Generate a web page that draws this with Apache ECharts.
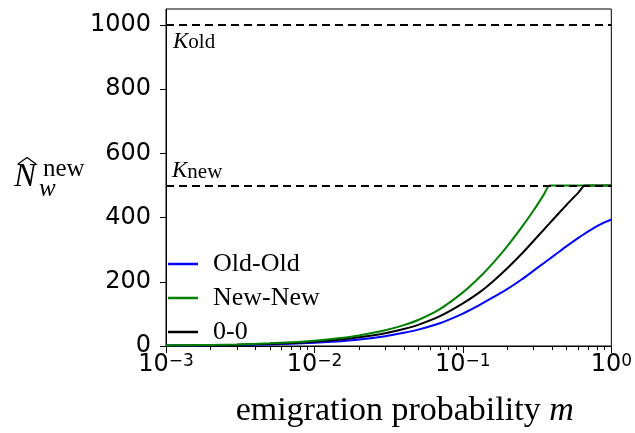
<!DOCTYPE html>
<html>
<head>
<meta charset="utf-8">
<script src="https://cdn.jsdelivr.net/npm/echarts@6/dist/echarts.min.js"></script>
<style>
  html, body { margin: 0; padding: 0; background: #fff; }
  #chart { width: 635px; height: 433px; }
</style>
</head>
<body>
<div id="chart"></div>
<script>
// Emigration probability m (shared x values for all curves)
const mValues = [0.001, 0.0015, 0.002, 0.003, 0.005, 0.007, 0.01, 0.015, 0.02, 0.03, 0.04, 0.05,
                 0.07, 0.1, 0.13, 0.16, 0.2, 0.25, 0.3, 0.35, 0.385, 0.42, 0.5, 0.6, 0.667,
                 0.75, 0.85, 1];

// Equilibrium size of the new-habitat population for each scenario
const oldOld = [1, 1.5, 2, 3, 5, 7, 10, 15, 20, 30.5, 41, 51,
                71, 101, 128, 152, 178, 208, 235, 258, 272, 285, 311, 337, 351,
                366, 380, 394];
const newNew = [1.65, 2.5, 3.3, 5, 8.2, 11.5, 16.5, 25, 33, 49, 65, 81,
                115, 167, 215, 259, 312, 371, 423, 471, 500, 500, 500, 500, 500,
                500, 500, 500];
const zeroZero = [1.35, 2, 2.7, 4, 6.7, 9.4, 13.4, 20, 27, 40, 53, 66,
                  93, 133, 168, 202, 243, 288, 328, 362, 383, 402, 440, 478, 500,
                  500, 500, 500];

const seriesNames = ['Old-Old', 'New-New', '0-0'];

// Carrying capacities (dashed reference levels)
const kOld = 1000;
const kNew = 500;

// Axis ticks
const yTicks = [0, 200, 400, 600, 800, 1000];
const xMajorTicks = [0.001, 0.01, 0.1, 1];
const xMinorTicks = [];
[0.001, 0.01, 0.1].forEach(d => { for (let k = 2; k <= 9; k++) xMinorTicks.push(+(d * k).toPrecision(3)); });

const pairs = ys => mValues.map((m, i) => [m, ys[i]]);

const serif = '"Liberation Serif", "DejaVu Serif", serif';
const sans = '"DejaVu Sans", sans-serif';

const chart = echarts.init(document.getElementById('chart'), null, { renderer: 'canvas' });

const curve = (name, ys, color, z) => ({
  name, type: 'line', data: pairs(ys), showSymbol: false, smooth: 0.3,
  lineStyle: { color, width: 2 }, itemStyle: { color }, z
});

chart.setOption({
  animation: false,
  backgroundColor: '#fff',
  grid: {
    left: 166, right: 23, top: 9, bottom: 84,
    show: true, borderColor: '#000', borderWidth: 1, backgroundColor: 'transparent'
  },
  legend: {
    data: seriesNames,
    orient: 'vertical',
    left: 168, top: 247, padding: 0,
    icon: 'rect', itemWidth: 30, itemHeight: 2.5, itemGap: 0,
    textStyle: {
      fontFamily: serif, fontSize: 26, color: '#000',
      lineHeight: 34, padding: [0, 0, 0, 10]
    }
  },
  xAxis: [
    {
      type: 'log', logBase: 10, min: 0.001, max: 1,
      axisLine: { show: true, lineStyle: { color: '#000', width: 1 } },
      axisTick: { show: true, length: 7, customValues: xMajorTicks, lineStyle: { color: '#000', width: 1 } },
      splitLine: { show: false },
      axisLabel: {
        show: true, margin: 6, customValues: xMajorTicks,
        formatter: v => '{b|10}{s|' + String(Math.round(Math.log10(v))).replace('-', '\u2212') + '}',
        rich: {
          b: { fontFamily: sans, fontSize: 24, color: '#000', lineHeight: 26, verticalAlign: 'middle' },
          s: { fontFamily: sans, fontSize: 17, color: '#000', lineHeight: 26, verticalAlign: 'middle', padding: [0, 0, 6, 0] }
        }
      },
      name: '{a|emigration probability }{i|m}',
      nameLocation: 'middle', nameGap: 48,
      nameTextStyle: {
        padding: [0, 0, 0, 32],
        rich: {
          a: { fontFamily: serif, fontSize: 34, color: '#000' },
          i: { fontFamily: serif, fontSize: 34, fontStyle: 'italic', color: '#000' }
        }
      }
    },
    {
      type: 'log', logBase: 10, min: 0.001, max: 1, position: 'bottom',
      axisLine: { show: false },
      axisTick: { show: true, length: 4, customValues: xMinorTicks, lineStyle: { color: '#000', width: 1 } },
      axisLabel: { show: false },
      splitLine: { show: false }
    }
  ],
  yAxis: {
    type: 'value', min: 0, max: 1050,
    axisLine: { show: true, lineStyle: { color: '#000', width: 1 } },
    axisTick: { show: true, length: 6, customValues: yTicks, lineStyle: { color: '#000', width: 1 } },
    axisLabel: {
      customValues: yTicks, fontFamily: sans, fontSize: 24, color: '#000', margin: 15,
      formatter: v => String(v)
    },
    splitLine: { show: false }
  },
  graphic: [
    // y-axis title: widehat N with subscript w and superscript new
    { type: 'text', left: 14, top: 161,
      style: { text: 'N', font: 'italic 33px ' + serif, fill: '#000' } },
    { type: 'polyline', shape: { points: [[18, 164], [27, 157.5], [36, 164]] },
      style: { stroke: '#000', lineWidth: 1.4, fill: null } },
    { type: 'text', left: 43, top: 157,
      style: { text: 'new', font: '25px ' + serif, fill: '#000' } },
    { type: 'text', left: 39, top: 177,
      style: { text: 'w', font: 'italic 25px ' + serif, fill: '#000' } }
  ],
  series: [
    curve('Old-Old', oldOld, '#0000ff', 2),
    curve('0-0', zeroZero, '#000000', 3),
    curve('New-New', newNew, '#008000', 4),
    {
      name: 'K', type: 'line', data: [], z: 10,
      markLine: {
        silent: true, symbol: 'none',
        lineStyle: { color: '#000', type: [8, 5], width: 2 },
        label: {
          rich: {
            k: { fontFamily: serif, fontStyle: 'italic', fontSize: 23, color: '#000', lineHeight: 24, verticalAlign: 'bottom' },
            s: { fontFamily: serif, fontSize: 21, color: '#000', lineHeight: 14, verticalAlign: 'bottom' }
          }
        },
        data: [
          { yAxis: kOld, label: { position: 'insideStartBottom', distance: [7, 4], formatter: '{k|K}{s|old}' } },
          { yAxis: kNew, label: { position: 'insideStartTop', distance: [6, 3], formatter: '{k|K}{s|new}' } }
        ]
      }
    }
  ]
});
</script>
</body>
</html>
